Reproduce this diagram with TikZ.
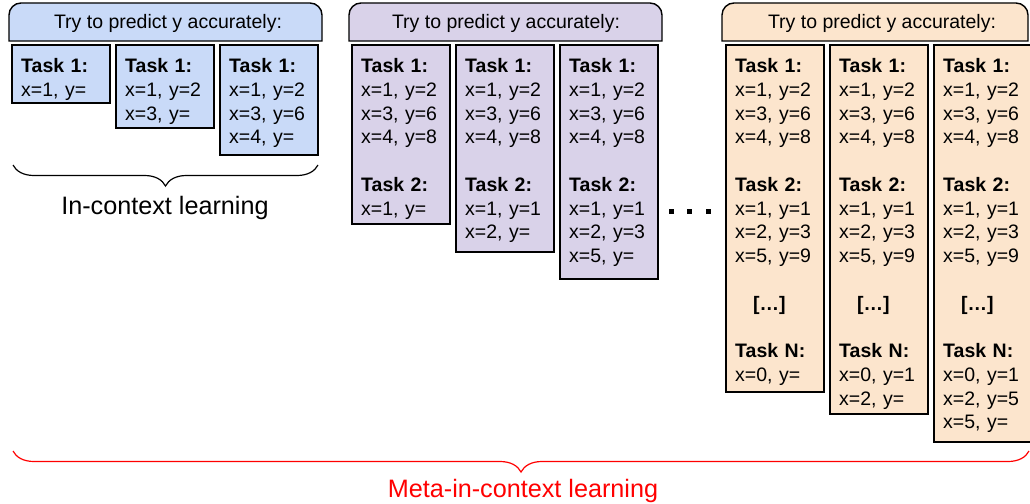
\documentclass[tikz,border=0pt]{standalone}
\usepackage{fontspec}
\setmainfont{Liberation Sans}
\usetikzlibrary{decorations.pathreplacing}

\definecolor{iclblue}{HTML}{C9DAF8}
\definecolor{iclpurple}{HTML}{D9D2E9}
\definecolor{iclorange}{HTML}{FCE5CD}
\definecolor{iclred}{HTML}{FF0000}

% repeated task blocks
\newcommand{\taskone}{\textbf{Task 1:}\\ x=1, y=2\\ x=3, y=6\\ x=4, y=8}
\newcommand{\tasktwo}{\textbf{Task 2:}\\ x=1, y=1\\ x=2, y=3\\ x=5, y=9}

\begin{document}
\begin{tikzpicture}[x=1pt, y=-1pt,
    task/.style={draw, line width=1.4pt, anchor=north west, outer sep=0pt, inner sep=0pt, minimum width=98pt},
    txt/.style={anchor=base west, text width=90pt, align=left, inner sep=0pt, font=\fontsize{19.5}{23.75}\selectfont},
    hdr/.style={draw, line width=1.4pt},
    hdrtext/.style={anchor=base, inner sep=0pt, font=\fontsize{19.5}{23.75}\selectfont},
    brc/.style={decorate, decoration={brace, amplitude=21pt, mirror}, line width=1.2pt},
    caption/.style={anchor=base, inner sep=0pt, font=\fontsize{25.2}{29}\selectfont},
    dot/.style={fill, inner sep=0pt, minimum size=5pt}]
  \useasboundingbox (0,0) rectangle (1030,503);

  % in-context learning
  \draw[hdr, fill=iclblue] (9,41) -- (9,15) arc[start angle=180, end angle=90, radius=12pt] -- (310,3) arc[start angle=90, end angle=0, radius=12pt] -- (322,41) -- cycle;
  \node[hdrtext] (hb) at (168,28.5) {Try to predict y accurately:};
  \node[task, fill=iclblue, minimum height=58pt] (b1) at (12,45) {};
  \node[task, fill=iclblue, minimum height=83pt] (b2) at (116,45) {};
  \node[task, fill=iclblue, minimum height=110pt] (b3) at (220,45) {};
  \node[txt] (bt1) at ([shift={(9,27.7)}]b1.north west) {\textbf{Task 1:}\\ x=1, y=};
  \node[txt] (bt2) at ([shift={(9,27.7)}]b2.north west) {\textbf{Task 1:}\\ x=1, y=2\\ x=3, y=};
  \node[txt] (bt3) at ([shift={(9,27.7)}]b3.north west) {\textbf{Task 1:}\\ x=1, y=2\\ x=3, y=6\\ x=4, y=};
  \coordinate (bl) at (13,165);
  \coordinate (br) at (318,165);
  \draw[brc] (bl) -- (br);
  \node[caption] (icl) at (165,214) {In-context learning};

  % two tasks
  \draw[hdr, fill=iclpurple] (349,41) -- (349,15) arc[start angle=180, end angle=90, radius=12pt] -- (650,3) arc[start angle=90, end angle=0, radius=12pt] -- (662,41) -- cycle;
  \node[hdrtext] (hp) at (506,28.5) {Try to predict y accurately:};
  \node[task, fill=iclpurple, minimum height=179pt] (p1) at (352,45) {};
  \node[task, fill=iclpurple, minimum height=207pt] (p2) at (456,45) {};
  \node[task, fill=iclpurple, minimum height=234pt] (p3) at (560,45) {};
  \node[txt] (pt1) at ([shift={(9,27.7)}]p1.north west) {\taskone\\[23.75pt] \textbf{Task 2:}\\ x=1, y=};
  \node[txt] (pt2) at ([shift={(9,27.7)}]p2.north west) {\taskone\\[23.75pt] \textbf{Task 2:}\\ x=1, y=1\\ x=2, y=};
  \node[txt] (pt3) at ([shift={(9,27.7)}]p3.north west) {\taskone\\[23.75pt] \textbf{Task 2:}\\ x=1, y=1\\ x=2, y=3\\ x=5, y=};

  \node[dot] (d1) at (671,211) {};
  \node[dot] (d2) at (689.5,211) {};
  \node[dot] (d3) at (708,211) {};

  % N tasks
  \draw[hdr, fill=iclorange] (722,41) -- (722,15) arc[start angle=180, end angle=90, radius=12pt] -- (1016,3) arc[start angle=90, end angle=0, radius=12pt] -- (1028,41) -- cycle;
  \node[hdrtext] (ho) at (882,28.5) {Try to predict y accurately:};
  \node[task, fill=iclorange, minimum height=347pt] (o1) at (726,45) {};
  \node[task, fill=iclorange, minimum height=369pt] (o2) at (830,45) {};
  \node[task, fill=iclorange, minimum height=397pt] (o3) at (934,45) {};
  \node[txt] (ot1) at ([shift={(9,27.7)}]o1.north west) {\taskone\\[23.75pt] \tasktwo\\[23.75pt] \hspace*{18pt}\textbf{[…]}\\[23.75pt] \textbf{Task N:}\\ x=0, y=};
  \node[txt] (ot2) at ([shift={(9,27.7)}]o2.north west) {\taskone\\[23.75pt] \tasktwo\\[23.75pt] \hspace*{18pt}\textbf{[…]}\\[23.75pt] \textbf{Task N:}\\ x=0, y=1\\ x=2, y=};
  \node[txt] (ot3) at ([shift={(9,27.7)}]o3.north west) {\taskone\\[23.75pt] \tasktwo\\[23.75pt] \hspace*{18pt}\textbf{[…]}\\[23.75pt] \textbf{Task N:}\\ x=0, y=1\\ x=2, y=5\\ x=5, y=};

  \coordinate (ml) at (13,451);
  \coordinate (mr) at (1029,451);
  \draw[brc, iclred] (ml) -- (mr);
  \node[caption, text=iclred] (micl) at (523,497) {Meta-in-context learning};
\end{tikzpicture}
\end{document}
